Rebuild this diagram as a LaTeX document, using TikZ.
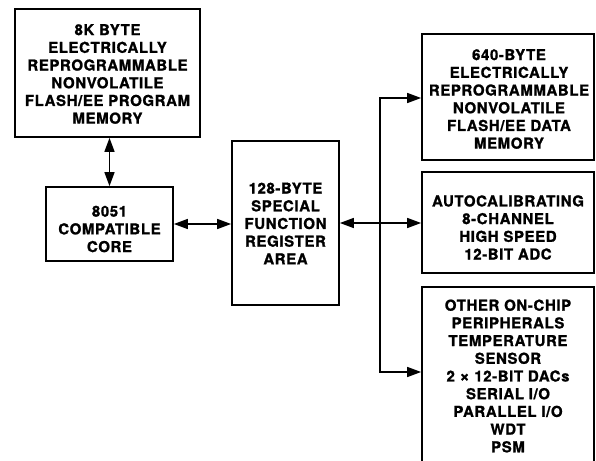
\documentclass[tikz,border=0pt]{standalone}
\usepackage{fontspec}
\setmainfont{TeX Gyre Heros}[LetterSpace=4,BoldFeatures={FakeBold=1.2}]
\usetikzlibrary{arrows.meta}
\begin{document}
\begin{tikzpicture}[x=1pt,y=-1pt,
  blk/.style={draw=black,line width=1.7pt,rectangle,inner sep=0pt,fill=white},
  txt/.style={align=center,inner sep=0pt,font=\fontsize{15}{17.7}\selectfont\bfseries},
  conn/.style={line width=1.5pt,{Triangle[length=14pt,width=10pt]}-{Triangle[length=14pt,width=10pt]}}]
\useasboundingbox (0,0) rectangle (596,460);
\clip (0,0) rectangle (596,460);
% boxes
\node[blk,minimum width=185pt,minimum height=128pt] (flash) at (107.5,73) {};
\node[blk,minimum width=127pt,minimum height=74pt] (core) at (109.5,224) {};
\node[blk,minimum width=107pt,minimum height=164pt] (sfr) at (285.5,223) {};
\node[blk,minimum width=172pt,minimum height=126pt] (data) at (508,97) {};
\node[blk,minimum width=172pt,minimum height=101pt] (adc) at (508,222.5) {};
\node[blk,minimum width=172pt,minimum height=200pt] (other) at (508,387) {};
% texts
\node[txt] (flasht) at (107.5,74) {8K BYTE\\ELECTRICALLY\\REPROGRAMMABLE\\NONVOLATILE\\FLASH/EE PROGRAM\\MEMORY};
\node[txt] (coret) at (109.5,229) {8051\\COMPATIBLE\\CORE};
\node[txt] (sfrt) at (285.5,223.5) {128-BYTE\\SPECIAL\\FUNCTION\\REGISTER\\AREA};
\node[txt] (datat) at (509,99) {640-BYTE\\ELECTRICALLY\\REPROGRAMMABLE\\NONVOLATILE\\FLASH/EE DATA\\MEMORY};
\node[txt] (adct) at (508,227.5) {AUTOCALIBRATING\\8-CHANNEL\\HIGH SPEED\\12-BIT ADC};
\node[txt] (othert) at (508,376) {OTHER ON-CHIP\\PERIPHERALS\\TEMPERATURE\\SENSOR\\2 {\fontsize{17}{17.7}\selectfont ×} 12-BIT DACs\\SERIAL I/O\\PARALLEL I/O\\WDT\\PSM};
% connectors
\draw[conn] (core.north |- flash.south) -- (core.north);
\draw[conn] (core.east) -- (core.east -| sfr.west);
\draw[conn] (sfr.east) -- (sfr.east -| adc.west);
\coordinate (bt) at (380,98);
\coordinate (bb) at (380,372);
\draw[conn] (bt -| data.west) -- (bt) -- (bb) -- (bb -| other.west);
\end{tikzpicture}
\end{document}
